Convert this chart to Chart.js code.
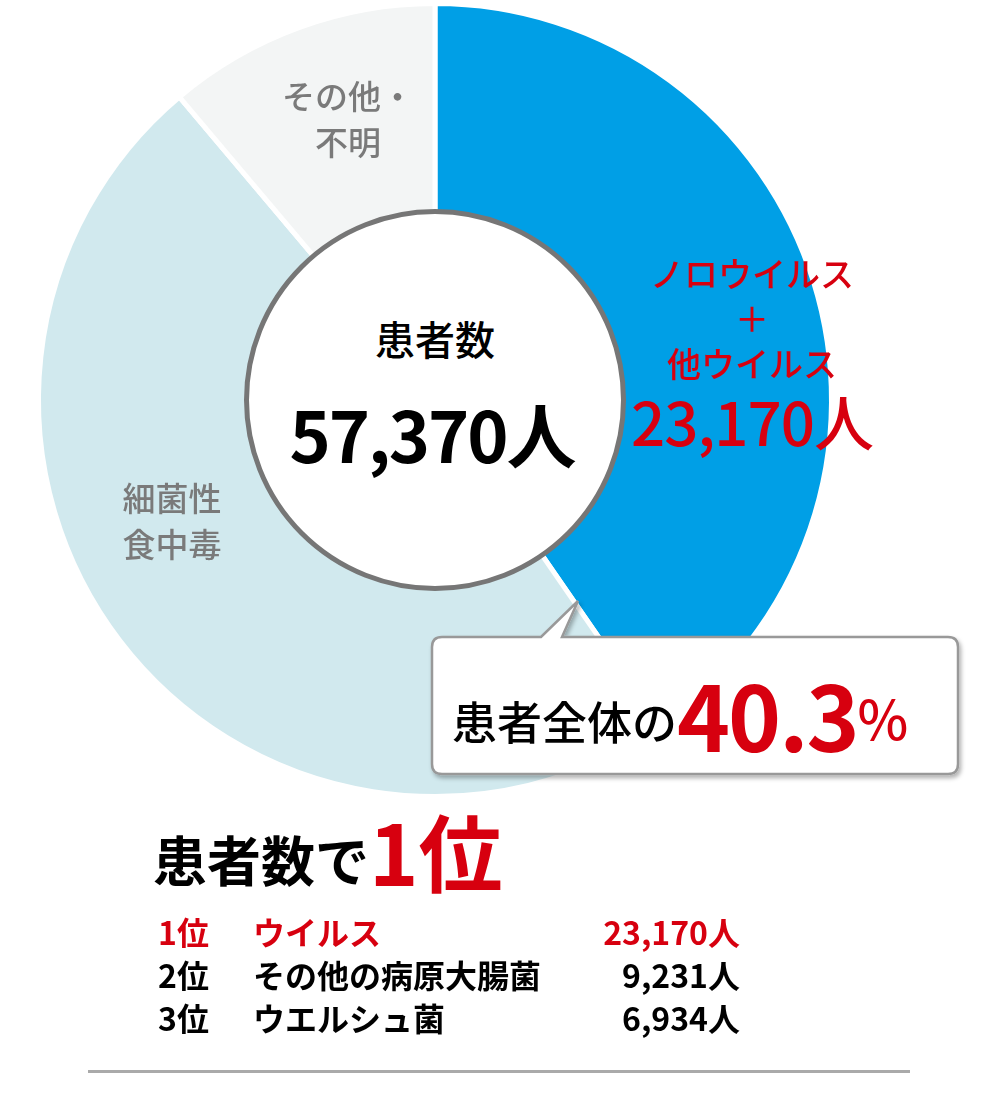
<!DOCTYPE html>
<html>
<head>
<meta charset="utf-8">
<script src="https://cdn.jsdelivr.net/npm/chart.js@4/dist/chart.umd.min.js"></script>
<style>
  body { margin: 0; background: #fff; font-family: "Noto Sans CJK JP", sans-serif; }
  #wrap { position: relative; width: 1000px; height: 1100px; overflow: hidden; }
  #pie { position: absolute; left: 0; top: 0; }
  .t { position: absolute; white-space: nowrap; line-height: 1; }
  .c { transform: translateX(-50%); text-align: center; }
  .red { color: #d7000f; }
  .gray { color: #7a7a7a; }
  #hole { position: absolute; left: 244px; top: 209px; width: 372px; height: 372px;
          border: 5px solid #767676; border-radius: 50%; background: #fff; }
  .row { position: absolute; left: 158px; font-size: 32px; font-weight: bold; width: 582px; height: 40px; }
  .row span { position: absolute; top: 0; }
</style>
</head>
<body>
<div id="wrap">
  <canvas id="pie" width="1000" height="1100"></canvas>
  <div id="hole"></div>

  <div class="t c" style="left:435px;top:318px;font-size:40px;font-weight:500;">患者数</div>
  <div class="t c" style="left:432px;top:398px;font-size:70px;font-weight:bold;letter-spacing:-2px;">57,370人</div>

  <div class="t c red" style="left:752px;top:250px;font-size:34px;line-height:45px;font-weight:500;">ノロウイルス<br>＋<br>他ウイルス</div>
  <div class="t c red" style="left:752px;top:390px;font-size:60px;letter-spacing:-1px;font-weight:500;">23,170人</div>
  <div class="t c gray" style="left:348px;top:72px;font-size:33px;line-height:46px;font-weight:500;">その他・<br>不明</div>
  <div class="t c gray" style="left:172px;top:474px;font-size:33px;line-height:46px;font-weight:500;">細菌性<br>食中毒</div>

  <svg style="position:absolute;left:0;top:0" width="1000" height="1100">
    <defs><filter id="sh"><feDropShadow dx="2" dy="3" stdDeviation="2" flood-color="#000" flood-opacity="0.3"/></filter></defs>
    <path d="M442 637 H541 L578 601 L562 637 H948 Q958 637 958 647 V764 Q958 774 948 774 H442 Q432 774 432 764 V647 Q432 637 442 637 Z"
          fill="#fff" stroke="#999" stroke-width="2.5" filter="url(#sh)"/>
  </svg>
  <div class="t" style="left:452px;top:668px;font-size:45px;font-weight:500;">患者全体の<span class="red" style="font-size:90px;font-weight:bold;vertical-align:-12px;letter-spacing:-2px;">40.3</span><span class="red" style="font-size:54px;">%</span></div>

  <div class="t" style="left:153px;top:808px;font-size:54px;font-weight:bold;">患者数で<span class="red" style="font-size:84px;vertical-align:-4px;">1位</span></div>

  <div class="row red" style="top:908px;"><span style="left:0">1位</span><span style="left:95px">ウイルス</span><span style="right:0">23,170人</span></div>
  <div class="row" style="top:951px;"><span style="left:0">2位</span><span style="left:95px">その他の病原大腸菌</span><span style="right:0">9,231人</span></div>
  <div class="row" style="top:994px;"><span style="left:0">3位</span><span style="left:95px">ウエルシュ菌</span><span style="right:0">6,934人</span></div>

  <div style="position:absolute;left:88px;top:1070px;width:822px;height:3px;background:#aaa;"></div>
</div>
<script>
const categories = ["ノロウイルス＋他ウイルス", "細菌性食中毒", "その他・不明"];
const patients = [23170, 27800, 6400];
const sliceColors = ["#009fe6", "#d1e9ee", "#f3f5f5"];

new Chart(document.getElementById("pie"), {
  type: "doughnut",
  data: {
    labels: categories,
    datasets: [
      {
        data: patients,
        backgroundColor: sliceColors,
        borderColor: "#fff",
        borderWidth: 5,
      },
    ],
  },
  options: {
    responsive: false,
    animation: false,
    cutout: "45%",
    layout: { padding: { left: 36, right: 166, top: 1, bottom: 301 } },
    plugins: {
      legend: { display: false },
      tooltip: { enabled: false },
    },
  },
});
</script>
</body>
</html>
